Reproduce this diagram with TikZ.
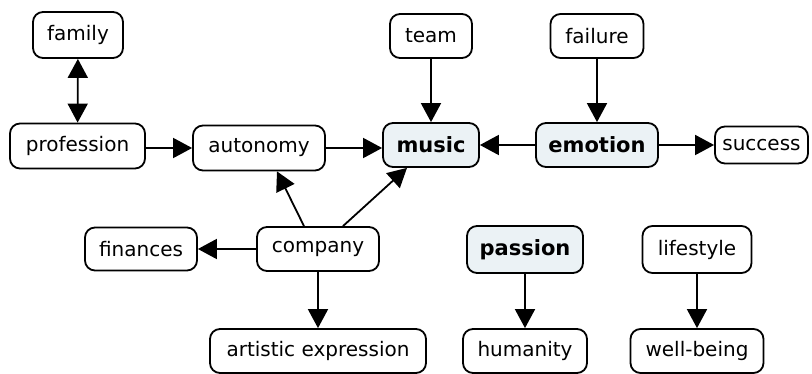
\documentclass[tikz,border=0pt]{standalone}
\usepackage{fontspec}
\setmainfont{DejaVu Sans}
\usetikzlibrary{arrows.meta,calc}
\definecolor{conceptfill}{HTML}{EBF2F5}
\begin{document}
\begin{tikzpicture}[x=1pt,y=-1pt,
  concept/.style={draw=black,line width=1.8pt,rounded corners=10pt,fill=white,
    inner sep=0pt,align=center,font=\fontsize{20}{24}\selectfont},
  keyconcept/.style={concept,fill=conceptfill,font=\fontsize{21}{25}\selectfont\bfseries},
  link/.style={line width=1.8pt,-{Triangle[length=19pt,width=20pt]}},
  twoway/.style={line width=1.8pt,{Triangle[length=19pt,width=20pt]}-{Triangle[length=19pt,width=20pt]}}]
\useasboundingbox (0,0) rectangle (812,374);

\node[concept,minimum width=90,minimum height=46] (family) at (78,35) {family};
\node[concept,minimum width=135,minimum height=45] (profession) at (77.5,146) {profession};
\node[concept,minimum width=132,minimum height=45] (autonomy) at (259,148) {autonomy};
\node[keyconcept,minimum width=96,minimum height=44] (music) at (431,145) {music};
\node[keyconcept,minimum width=122,minimum height=44] (emotion) at (597,145) {emotion};
\node[concept,minimum width=93,minimum height=37] (success) at (761.5,145) {success};
\node[concept,minimum width=82,minimum height=44] (team) at (431,36) {team};
\node[concept,minimum width=93,minimum height=44] (failure) at (597,36) {failure};
\node[concept,minimum width=122,minimum height=44] (company) at (318,249) {company};
\node[concept,minimum width=112,minimum height=43] (finances) at (141,249) {finances};
\node[concept,minimum width=216,minimum height=44] (artistic) at (318,351) {artistic expression};
\node[keyconcept,minimum width=116,minimum height=47] (passion) at (525,249.5) {passion};
\node[concept,minimum width=124,minimum height=44] (humanity) at (525,351) {humanity};
\node[concept,minimum width=109,minimum height=47] (lifestyle) at (697,249.5) {lifestyle};
\node[concept,minimum width=133,minimum height=44] (wellbeing) at (697,351) {well-being};

\draw[twoway] (family) -- (profession);
\draw[link] (profession.east |- autonomy.west) -- (autonomy.west);
\draw[link] (autonomy.east) -- (music.west |- autonomy.east);
\draw[link] (team) -- (music);
\draw[link] (failure) -- (emotion);
\draw[link] (emotion) -- (music);
\draw[link] (emotion) -- (success);
\draw[link] ($(company.north)+(-14,0)$) -- ($(autonomy.south)+(18,0)$);
\draw[link] ($(company.north)+(25,0)$) -- ($(music.south)+(-24,0)$);
\draw[link] (company) -- (finances);
\draw[link] (company) -- (artistic);
\draw[link] (passion) -- (humanity);
\draw[link] (lifestyle) -- (wellbeing);
\end{tikzpicture}
\end{document}
